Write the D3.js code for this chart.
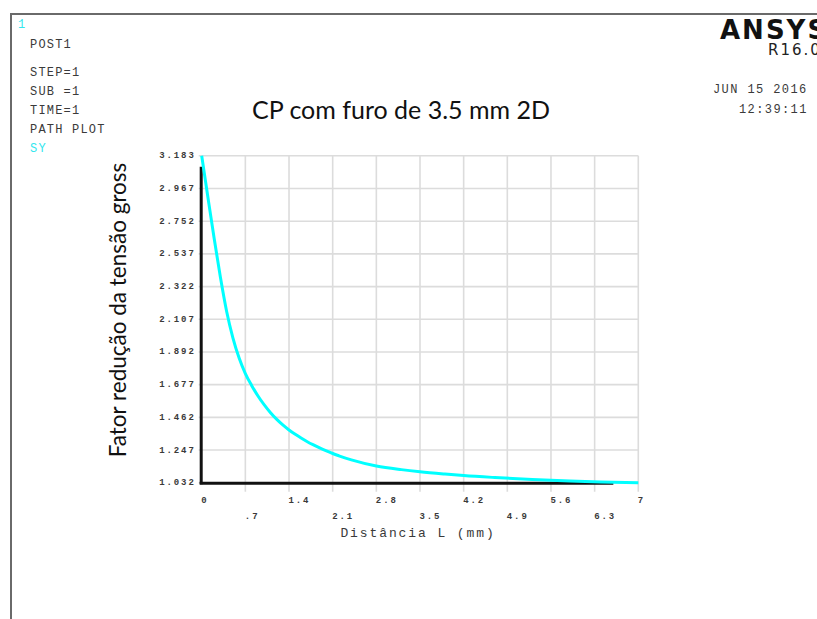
<!DOCTYPE html>
<html>
<head>
<meta charset="utf-8">
<script src="https://cdn.jsdelivr.net/npm/d3@7"></script>
<style>
  html, body { margin: 0; padding: 0; background: #fff; }
  svg { display: block; }
  .mono { font-family: "Liberation Mono", "DejaVu Sans Mono", monospace; fill: #3a3a3a; }
</style>
</head>
<body>
<svg id="chart" width="817" height="619"></svg>
<script>
// SY along the path: distance (mm) and stress factor
const distance = [0, 0.1, 0.2, 0.3, 0.4, 0.5, 0.6, 0.7, 0.8, 0.9, 1.0, 1.1, 1.2, 1.3, 1.4,
                  1.5, 1.6, 1.7, 1.8, 1.9, 2.0, 2.1, 2.2, 2.4, 2.8, 3.2, 3.5, 3.9, 4.2,
                  4.7, 5.3, 5.9, 6.4, 7.0];
const sy = [3.183, 2.908, 2.638, 2.383, 2.158, 1.985, 1.852, 1.750, 1.672, 1.604, 1.545,
            1.494, 1.450, 1.412, 1.379, 1.350, 1.324, 1.300, 1.279, 1.259, 1.241, 1.224,
            1.209, 1.182, 1.142, 1.118, 1.104, 1.089, 1.079, 1.066, 1.053, 1.043, 1.037,
            1.032];

// Axis tick labels
const yTickLabels = ["1.032", "1.247", "1.462", "1.677", "1.892", "2.107",
                     "2.322", "2.537", "2.752", "2.967", "3.183"];
const xTickLabels = ["0", ".7", "1.4", "2.1", "2.8", "3.5", "4.2", "4.9", "5.6", "6.3", "7"];

// Annotation text
const infoLines = ["POST1", "STEP=1", "SUB =1", "TIME=1", "PATH PLOT"];
const dateLines = ["JUN 15 2016", "12:39:11"];

const svg = d3.select("#chart");

const yTicks = yTickLabels.map(Number);
const xTicks = xTickLabels.map(Number);

const x = d3.scaleLinear().domain([0, 7]).range([201.7, 638.3]);
const y = d3.scaleLinear().domain([yTicks[0], yTicks[yTicks.length - 1]]).range([482.7, 155.7]);

// Window frame
svg.append("path")
  .attr("d", "M11,619 V14 H817")
  .attr("fill", "none")
  .attr("stroke", "#6a6a6a")
  .attr("stroke-width", 2);

// Grid
const grid = svg.append("g").attr("stroke", "#dcdcdc").attr("stroke-width", 1.6);
grid.selectAll("line.h").data(yTicks).join("line")
  .attr("class", "h")
  .attr("x1", x(0) - 3).attr("x2", x(7))
  .attr("y1", d => y(d)).attr("y2", d => y(d));
grid.selectAll("line.v").data(xTicks.slice(1)).join("line")
  .attr("class", "v")
  .attr("x1", d => x(d)).attr("x2", d => x(d))
  .attr("y1", y.range()[1]).attr("y2", y.range()[0] + 9);

// Y tick labels
svg.append("g").selectAll("text").data(yTickLabels).join("text")
  .attr("class", "mono")
  .attr("x", x(0) - 6)
  .attr("y", d => y(+d) + 2.5)
  .attr("text-anchor", "end")
  .attr("font-size", 9)
  .attr("font-weight", "bold")
  .attr("letter-spacing", 1.9)
  .text(d => d);

// X tick labels, staggered in two rows
svg.append("g").selectAll("text").data(xTickLabels).join("text")
  .attr("class", "mono")
  .attr("x", (d, i) => x(xTicks[i]) - 0.5)
  .attr("y", (d, i) => i % 2 === 0 ? 503 : 519)
  .attr("font-size", 9)
  .attr("font-weight", "bold")
  .attr("letter-spacing", 1.9)
  .text(d => d);

// Axis lines
svg.append("line")
  .attr("x1", x(0) - 0.5).attr("x2", x(0) - 0.5)
  .attr("y1", y(yTicks[0]) + 1.5).attr("y2", y(3.11))
  .attr("stroke", "#111").attr("stroke-width", 3);
svg.append("line")
  .attr("x1", x(0) - 2).attr("x2", x(6.6))
  .attr("y1", y(yTicks[0]) + 0.5).attr("y2", y(yTicks[0]) + 0.5)
  .attr("stroke", "#111").attr("stroke-width", 3);

// SY curve
const line = d3.line()
  .x((d, i) => x(distance[i]))
  .y(d => y(d))
  .curve(d3.curveMonotoneX);
svg.append("path")
  .datum(sy)
  .attr("d", line)
  .attr("fill", "none")
  .attr("stroke", "#00ffff")
  .attr("stroke-width", 3);

// Axis titles
svg.append("text")
  .attr("class", "mono")
  .attr("x", 418).attr("y", 537)
  .attr("text-anchor", "middle")
  .attr("font-size", 13)
  .attr("letter-spacing", 1.9)
  .text("Distância L (mm)");

svg.append("text")
  .attr("transform", "translate(126,310) rotate(-90)")
  .attr("text-anchor", "middle")
  .attr("font-family", "Lato, 'Open Sans', sans-serif")
  .attr("font-size", 22.5)
  .attr("fill", "#111")
  .text("Fator redução da tensão gross");

// Chart title
svg.append("text")
  .attr("x", 401).attr("y", 119)
  .attr("text-anchor", "middle")
  .attr("font-family", "Lato, 'Open Sans', sans-serif")
  .attr("font-size", 25)
  .attr("fill", "#111")
  .text("CP com furo de 3.5 mm 2D");

// Top-left annotation block
svg.append("text")
  .attr("class", "mono")
  .attr("x", 18).attr("y", 28)
  .attr("font-size", 12)
  .style("fill", "#33e6ee")
  .text("1");
const info = svg.append("g");
info.selectAll("text").data(infoLines).join("text")
  .attr("class", "mono")
  .attr("x", 30)
  .attr("y", (d, i) => i === 0 ? 48.3 : 76 + (i - 1) * 18.9)
  .attr("font-size", 12)
  .attr("letter-spacing", 1.2)
  .text(d => d);
svg.append("text")
  .attr("class", "mono")
  .attr("x", 30).attr("y", 151.7)
  .attr("font-size", 12)
  .attr("letter-spacing", 1.2)
  .style("fill", "#33e6ee")
  .text("SY");

// Top-right brand and timestamp
svg.append("text")
  .attr("x", 720).attr("y", 38.5)
  .attr("font-family", "'DejaVu Sans', sans-serif")
  .attr("font-weight", "bold")
  .attr("font-size", 26)
  .attr("letter-spacing", 2)
  .attr("fill", "#111")
  .text("ANSYS");
svg.append("text")
  .attr("x", 768).attr("y", 55)
  .attr("font-family", "'DejaVu Sans', sans-serif")
  .attr("font-size", 15)
  .attr("letter-spacing", 2)
  .attr("fill", "#222")
  .text("R16.0");
svg.append("g").selectAll("text").data(dateLines).join("text")
  .attr("class", "mono")
  .attr("x", (d, i) => i === 0 ? 713 : 739)
  .attr("y", (d, i) => i === 0 ? 92.7 : 112.7)
  .attr("font-size", 12)
  .attr("letter-spacing", 1.4)
  .text(d => d);
</script>
</body>
</html>
